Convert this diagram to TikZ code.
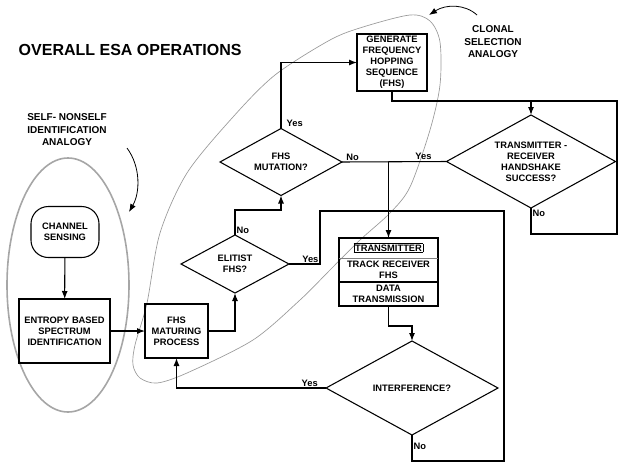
\documentclass[tikz,border=0pt]{standalone}
\usepackage{fontspec}
\setmainfont{Liberation Sans}
\usetikzlibrary{shapes.geometric,arrows.meta,positioning}
\setlength{\fboxsep}{0.6pt}
\setlength{\fboxrule}{0.4pt}

\tikzset{
  box/.style={draw, line width=0.8pt, align=center, inner sep=0pt, outer sep=0pt,
    font=\fontsize{7}{8.25}\selectfont\bfseries},
  txpart/.style={align=center, inner sep=0pt, outer sep=0pt, minimum width=74.25pt,
    font=\fontsize{7}{8.25}\selectfont\bfseries},
  decision/.style={diamond, draw, line width=0.8pt, align=center, inner sep=0pt,
    outer sep=0pt, aspect=1.8, font=\fontsize{7}{8.25}\selectfont\bfseries},
  line/.style={line width=0.8pt},
  arrow/.style={line, -{Latex[length=6pt,width=4.5pt]}},
  lbl/.style={font=\fontsize{7}{8}\selectfont\bfseries, inner sep=1pt},
  analogy/.style={align=center, font=\fontsize{7.5}{9.4}\selectfont\bfseries},
}

\begin{document}
\begin{tikzpicture}[x=0.75pt, y=-0.75pt]
    \useasboundingbox (0,0) rectangle (626,465);

    % analogy outlines
    \draw [gray!70, line width=1.2pt] (68,285) ellipse [x radius=61, y radius=127];
    \draw [gray!80, line width=0.5pt] plot [smooth cycle] coordinates {
        (410,15) (430,21) (440,42) (440,85) (430,130) (410,187) (390,213)
        (360,240) (330,270) (300,300) (253,340) (187,373) (157,383) (140,378)
        (133,365) (135,345) (147,303) (160,233) (187,173) (233,117) (275,75)
        (330,40) (363,27)};

    % texts
    \node [font=\fontsize{12}{14}\selectfont\bfseries, anchor=west] (title) at (14,50) {OVERALL ESA OPERATIONS};
    \node [analogy] (selflbl) at (67,130) {SELF- NONSELF\\IDENTIFICATION\\ANALOGY};
    \node [analogy] (clonlbl) at (493,42) {CLONAL\\SELECTION\\ANALOGY};
    \draw [arrow, line width=0.6pt] (127,148) .. controls (141,167) and (140,193) .. (129,212);
    \draw [arrow, line width=0.6pt] (477,15) .. controls (465,4) and (446,4) .. (429,15);

    % boxes
    \node [box, rounded corners=13pt, minimum width=51pt, minimum height=38.25pt] (sensing) at (65,232) {CHANNEL\\SENSING};
    \node [box, minimum width=68.25pt, minimum height=48pt] (entropy) at (64.5,331) {ENTROPY BASED\\SPECTRUM\\IDENTIFICATION};
    \node [box, minimum width=47.25pt, minimum height=40.5pt] (maturing) at (176.5,331) {FHS\\MATURING\\PROCESS};
    \node [box, minimum width=52.5pt, minimum height=42.75pt] (generate) at (392,62.5) {GENERATE\\FREQUENCY\\HOPPING\\SEQUENCE\\(FHS)};

    \node [decision, minimum width=81pt, minimum height=43.5pt] (elitist) at (235,264) {ELITIST\\FHS?};
    \node [decision, minimum width=91.5pt, minimum height=50.25pt] (mutation) at (281,162) {FHS\\MUTATION?};
    \node [decision, minimum width=126.75pt, minimum height=69.75pt] (handshake) at (531,161.5) {TRANSMITTER -\\RECEIVER\\HANDSHAKE\\SUCCESS?};
    \node [decision, minimum width=129pt, minimum height=70.5pt] (interf) at (412,388) {INTERFERENCE?};

    \node [txpart, minimum height=15pt] (txA) at (388.5,248) {\fbox{TRANSMITTER}};
    \node [txpart, minimum height=18pt, below=0pt of txA] (txB) {TRACK RECEIVER\\FHS};
    \node [txpart, minimum height=18pt, below=0pt of txB] (txC) {DATA\\TRANSMISSION};
    \draw [line] (txA.north west) rectangle (txC.south east);
    \draw [gray, line width=0.4pt] (txA.south west) -- (txA.south east);
    \draw [line] (txB.south west) -- (txB.south east);

    % connectors
    \draw [arrow] (sensing) -- (entropy);
    \draw [arrow] (entropy) -- (maturing);
    \draw [arrow] (maturing.east) -| (elitist.south);
    \draw [arrow] (elitist.north) -- ++(0,-25) -| (mutation.south);
    \draw [arrow] (mutation.north) |- (generate.west);
    \draw [arrow] (generate.south) -- ++(0,10) -| (handshake.north);
    \coordinate (hsret) at (617,101);
    \draw [line] (handshake.south) -- ++(0,26) -| (hsret) -- (hsret -| handshake.north);
    \draw [line] (mutation.east) -- (handshake.west);
    \draw [arrow] (mutation.east -| txA.north) -- (txA.north);
    \draw [line] (elitist.east) -| (320,211) -| (504,461) -| (interf.south);
    \draw [arrow] (txC.south) -- ++(0,20) -| (interf.north);
    \draw [arrow] (interf.west) -| (maturing.south);

    % yes / no
    \node [lbl, anchor=south west, xshift=3pt] at (mutation.north) {Yes};
    \node [lbl, anchor=south west] at (elitist.north) {No};
    \node [lbl, anchor=south west, xshift=2pt] at (mutation.east) {No};
    \node [lbl, anchor=south east, xshift=-10pt] at (handshake.west) {Yes};
    \node [lbl, anchor=north west] at (handshake.south) {No};
    \node [lbl, anchor=south east] at (320,264) {Yes};
    \node [lbl, anchor=south east, xshift=-5pt] at (interf.west) {Yes};
    \node [lbl, anchor=north west, yshift=-5pt] at (interf.south) {No};
\end{tikzpicture}
\end{document}
